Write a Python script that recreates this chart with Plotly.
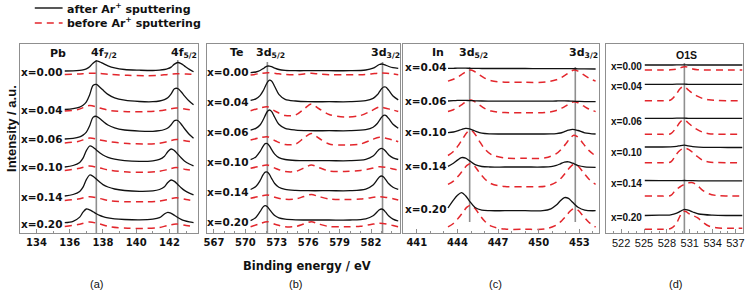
import plotly.graph_objects as go

# ---------------- data ----------------
comp_abd = ["x=0.00", "x=0.04", "x=0.06", "x=0.10", "x=0.14", "x=0.20"]
comp_c = ["x=0.04", "x=0.06", "x=0.10", "x=0.14", "x=0.20"]
series_names = ["after Ar<sup>+</sup> sputtering", "before Ar<sup>+</sup> sputtering"]

# Pb 4f
pb_e = [135.7, 136.2, 136.6, 136.8, 137.0, 137.2, 137.4, 137.6, 137.8, 138.0, 138.3, 138.7, 139.3,
        140.2, 141.0, 141.4, 141.7, 141.9, 142.1, 142.3, 142.5, 142.7, 142.9, 143.2, 143.45]
pb_after = [
    [162, 162.2, 162.7, 163.2, 164.2, 166.2, 169.8, 172, 171.2, 169.6, 167.2, 165.1, 163.5,
     162.8, 162.5, 162.9, 163.5, 164.3, 165.9, 168.9, 170.5, 169.4, 167.1, 163.6, 161.2],
    [123.5, 124.3, 125.9, 127.8, 131.2, 138.3, 147.5, 148.6, 146.1, 142.9, 138.6, 135.1, 132.8,
     131.5, 131.3, 132, 133.4, 135.2, 139.1, 144.2, 144.5, 141.3, 137.2, 131.7, 128.2],
    [94, 94.7, 96.2, 97.9, 100.9, 107.3, 115.6, 116.7, 114.5, 111.7, 108, 105.1, 103,
     101.9, 101.7, 102.3, 103.5, 105, 108.2, 112.3, 112.5, 109, 104.5, 98.5, 94.8],
    [66, 67.5, 70.6, 74.8, 82.4, 87, 85.8, 83.1, 80.3, 78, 75.7, 73.8, 72.4,
     71.7, 72.2, 73.6, 76.8, 81.3, 84, 82.4, 78.9, 75.2, 72.1, 69, 67.1],
    [37, 38.5, 41.6, 45.8, 53.4, 58, 56.7, 53.9, 50.9, 48.4, 46, 44, 42.5,
     41.7, 42.1, 43.5, 46.3, 50.5, 53, 51.6, 48.5, 45.3, 42.6, 39.9, 38.1],
    [10.3, 11.7, 15.9, 20.9, 24, 23.1, 21.3, 19.3, 17.6, 16.4, 15.2, 14.2, 13.5,
     13.1, 13.8, 15.3, 19, 20.7, 19.7, 17.7, 15.5, 13.7, 12.4, 11.1, 10.3],
]
pb_before_e = [135.7, 136.5, 137.2, 137.8, 138.5, 139.5, 140.5, 141.3, 141.9, 142.4, 143.0, 143.4]
pb_before = [
    [158.5, 159, 159.7, 159.5, 158.5, 157.7, 157.3, 157.6, 158.6, 159.3, 159, 158.7],
    [122, 123.5, 127.5, 125, 122.3, 121.3, 121.3, 122, 123.5, 125, 123.8, 123],
    [90, 91.5, 95, 93, 91, 89.5, 89, 89.5, 91.5, 93.5, 92, 91],
    [62.5, 64.5, 67, 65, 62.5, 61, 60.7, 61.5, 63.5, 65.5, 63.5, 62.5],
    [32.5, 34, 36.3, 34.5, 32, 31.3, 31.2, 31.8, 33.5, 35.3, 33.5, 32.5],
    [6.5, 8.5, 11, 9, 6, 4.8, 4.6, 5.3, 7.5, 9, 7.5, 6.5],
]

# Te 3d
te_e = [570.5, 571.0, 571.4, 571.7, 571.9, 572.1, 572.3, 572.5, 572.8, 573.2, 573.8, 574.8, 576.0,
        578.0, 580.0, 581.5, 582.2, 582.6, 582.8, 583.0, 583.2, 583.4, 583.7, 584.1, 584.6]
te_after = [
    [160.3, 161, 162.5, 164.4, 165.9, 166.9, 166.9, 166.3, 164.9, 163.5, 162.7, 162.3, 162.3,
     162.3, 162.3, 163, 164.8, 167.3, 168.5, 169, 168.7, 167.8, 166.5, 165.3, 164.7],
    [132.6, 134.1, 137.4, 142.2, 146.5, 150.6, 152.8, 152.1, 146.5, 138.7, 133.7, 132, 131.3,
     131.3, 131.3, 132.3, 134.6, 138.2, 141.1, 144.1, 146, 146, 142.6, 137, 133.1],
    [102.8, 104.6, 108, 113.2, 117.6, 121.5, 123, 121.6, 115.8, 108.7, 104.6, 102.9, 102.3,
     102.3, 102.3, 103.4, 105.8, 109.5, 112.5, 115.6, 117.7, 117.7, 114.3, 108.7, 104.8],
    [73.3, 76.1, 81.4, 86.9, 89.3, 89.4, 87.1, 83.6, 78.9, 75.4, 73.5, 72.5, 72.3,
     72.3, 72.3, 73.7, 77, 81.6, 83.8, 84.7, 83.8, 81.7, 78.1, 75.2, 73.5],
    [43.5, 46.5, 52.3, 58.3, 60.9, 60.9, 58.5, 54.7, 49.5, 45.7, 43.6, 42.6, 42.3,
     42.3, 42.3, 43.9, 47.9, 53.3, 56, 57, 56, 53.4, 49.2, 45.7, 43.7],
    [12.3, 15.6, 21.3, 26.1, 27.3, 26.3, 23.7, 20.9, 17.4, 15.1, 13.9, 13.2, 13,
     13, 13, 14.2, 17.2, 21.3, 23.2, 24, 23.1, 20.8, 17, 13.9, 12],
]
te_before_e = [570.5, 571.3, 572.1, 572.9, 573.8, 574.8, 575.6, 576.3, 577.0, 578.0, 579.5,
               581.0, 582.0, 582.8, 583.5, 584.1, 584.6]
te_before = [
    [158, 159.3, 160.3, 159.5, 158.5, 158.3, 159, 159.7, 159, 158.3, 158.2, 158.3, 159, 160, 159.8, 159, 158.3],
    [122.3, 124.7, 126.3, 121.5, 117.5, 118, 124, 129, 124.5, 118.5, 116, 117.5, 122, 126, 124.5, 123, 121.5],
    [93, 95, 96.3, 92, 88.5, 89, 95, 99.5, 95, 89, 88, 89, 93, 95.7, 94.5, 93, 91.3],
    [64.7, 66.5, 68, 64.5, 61.5, 61.5, 65, 68, 65.5, 62, 61.5, 62.5, 64.5, 66.3, 65.5, 64, 63],
    [34.7, 36.5, 38, 35.5, 33.7, 34, 36.5, 38.5, 36.5, 34, 33.5, 34, 35.3, 36.3, 35.5, 34.3, 33],
    [6.3, 9, 11.3, 8.5, 6.3, 6.5, 9, 11.3, 9, 6.5, 6.2, 6.8, 8.5, 9.7, 9, 7.5, 6.3],
]

# In 3d
in_e = [443.3, 443.7, 444.0, 444.3, 444.6, 444.9, 445.3, 445.8, 446.4, 447.5, 449.0, 450.3,
        450.9, 451.3, 451.6, 451.9, 452.2, 452.5, 452.9, 453.4, 454.2]
in_after = [
    [164.6, 164.7, 164.8, 164.8, 164.8, 164.7, 164.6, 164.5, 164.5, 164.5, 164.5, 164.4,
     164.4, 164.4, 164.4, 164.4, 164.3, 164.3, 164.2, 164.1, 164],
    [132, 132.3, 132.6, 132.7, 132.6, 132.4, 132.2, 132, 131.9, 131.9, 131.9, 131.9,
     131.9, 132, 132.1, 132.1, 132, 131.8, 131.6, 131.4, 131.3],
    [100.3, 101, 102.1, 103.5, 104.6, 104.2, 102, 99.8, 99.1, 99, 99, 99,
     99.1, 99.4, 100, 101.4, 102.9, 103.7, 102.5, 100.2, 99],
    [66.7, 69.7, 72.9, 75.4, 74.9, 72.1, 68.4, 66.5, 66, 66, 66, 66,
     66.4, 67.6, 69.2, 70.9, 71.2, 69.8, 67.5, 66.1, 65.7],
    [25, 32.8, 37.7, 40.3, 37.2, 31.7, 25.5, 22.8, 22.3, 22.3, 22.3, 22.3,
     24.2, 27.9, 32.2, 35.4, 34.6, 30.7, 25.7, 22.8, 22.3],
]
in_before_e = [443.3, 443.7, 444.1, 444.4, 444.7, 445.0, 445.3, 445.6, 446.0, 446.5, 447.5,
               449.0, 450.5, 451.3, 451.7, 452.0, 452.3, 452.6, 452.9, 453.3, 453.7, 454.2]
in_before = [
    [151.9, 153.7, 156.6, 159.3, 161.9, 162.9, 161.2, 158.3, 154.9, 152.3, 150.8,
     150.7, 150.9, 153.2, 155.7, 158.3, 161.2, 162.9, 161.9, 158.3, 154.9, 151.9],
    [121.6, 123.3, 126.4, 129.2, 131.9, 132.9, 131.1, 128.2, 124.6, 122, 120.4,
     120.3, 120.5, 122.5, 124.8, 127.1, 129.7, 131.2, 130.3, 127.1, 124, 121.4],
    [77.5, 81.5, 88.3, 94.5, 100.5, 102.7, 98.8, 92.2, 84.3, 78.4, 75,
     74.7, 75.2, 79.4, 84.3, 89.1, 94.5, 97.8, 95.9, 89.1, 82.6, 77],
    [48.6, 51.9, 57.5, 62.7, 67.6, 69.5, 66.2, 60.8, 54.3, 49.3, 46.5,
     46.3, 46.8, 50.8, 55.6, 60.4, 65.6, 68.8, 67, 60.4, 54, 48.6],
    [6.1, 9.5, 15.4, 20.7, 25.8, 27.8, 24.4, 18.8, 12, 6.9, 3.9,
     3.7, 4.1, 7.9, 12.3, 16.7, 21.6, 24.5, 22.8, 16.7, 10.8, 5.8],
]

# O 1s
o_e = [525.1, 527.0, 528.5, 529.3, 529.8, 530.3, 530.8, 531.4, 532.2, 534.0, 536.0, 537.9]
o_after = [
    [168, 168, 168, 168.1, 168.1, 168.1, 168, 168, 168, 168, 168, 168],
    [148.7, 148.7, 148.7, 148.8, 148.8, 148.8, 148.7, 148.7, 148.6, 148.6, 148.6, 148.6],
    [114.7, 114.7, 114.7, 114.8, 114.8, 114.8, 114.7, 114.7, 114.6, 114.6, 114.6, 114.6],
    [86, 86, 86.1, 86.6, 87.4, 87.8, 87.2, 86.4, 85.9, 85.6, 85.5, 85.5],
    [52.5, 52.4, 52.4, 52.3, 52.4, 52.5, 52.4, 52.3, 52.2, 52.2, 52.2, 52.2],
    [17.5, 17.8, 18.2, 19.8, 21.8, 23.7, 22.8, 21, 19, 17.8, 17.5, 17.5],
]
o_before_e = [525.1, 527.0, 528.5, 529.2, 529.7, 530.1, 530.5, 530.9, 531.4, 532.0, 532.7,
              533.5, 534.5, 536.0, 537.9]
o_before = [
    [163, 163, 163.2, 163.8, 165, 166, 166.2, 165.3, 164, 163.3, 163, 163, 163, 163, 163],
    [132.3, 132.3, 133, 138.5, 144, 146.3, 145, 142.5, 139.5, 136.8, 134.5, 133.2, 132.5, 132.3, 132.3],
    [98.7, 98.7, 99.3, 105, 110.5, 113, 112, 109.5, 106.3, 103.3, 100.8, 99.3, 98.8, 98.7, 98.7],
    [70.3, 70.3, 71, 78.3, 82.5, 84.3, 84.6, 83.3, 80.5, 76.5, 72.8, 71, 70.5, 70.3, 70.3],
    [37, 37, 37.5, 43.5, 46, 47.8, 49.3, 50.2, 50.3, 47.5, 42.7, 39.3, 37.5, 37, 37],
    [3.7, 3.7, 4.5, 9, 16.5, 21.5, 21.5, 19.3, 17.5, 15.3, 11, 7, 5.2, 4.7, 4.7],
]

# reference peak positions (vertical lines)
pb_lines = [137.6, 142.5]
te_lines = [572.1, 583.1]
in_lines = [444.9, 452.7]
o_lines = [530.3]

# tick labels
pb_ticks = [134, 136, 138, 140, 142]
te_ticks = [567, 570, 573, 576, 579, 582]
in_ticks = [441, 444, 447, 450, 453]
o_ticks = [522, 525, 528, 531, 534, 537]

# ---------------- figure ----------------
W, H = 748, 294
BOLD = "DejaVu Sans"
BLACK = "#111111"
RED = "#e3262c"
GRAY = "#8f8f8f"
DASH = "7px,5px"

def px(x):
    return x / W

def py(y):
    return 1 - y / H

fig = go.Figure()

panels = [
    dict(ax="x", ay="y", e=pb_e, after=pb_after, eb=pb_before_e, before=pb_before),
    dict(ax="x2", ay="y2", e=te_e, after=te_after, eb=te_before_e, before=te_before),
    dict(ax="x3", ay="y3", e=in_e, after=in_after, eb=in_before_e, before=in_before),
    dict(ax="x4", ay="y4", e=o_e, after=o_after, eb=o_before_e, before=o_before),
]

for i, p in enumerate(panels):
    for j in range(len(p["after"])):
        fig.add_trace(go.Scatter(
            x=p["eb"], y=p["before"][j], mode="lines", xaxis=p["ax"], yaxis=p["ay"],
            line=dict(color=RED, width=1.5, dash=DASH, shape="spline", smoothing=0.9),
            name=series_names[1], showlegend=False, hoverinfo="skip"))
        fig.add_trace(go.Scatter(
            x=p["e"], y=p["after"][j], mode="lines", xaxis=p["ax"], yaxis=p["ay"],
            line=dict(color=BLACK, width=1.3, shape="spline", smoothing=0.9),
            name=series_names[0], showlegend=False, hoverinfo="skip"))

# axes
xdomains = [(17, 196), (205, 400), (403, 600), (607, 745)]
xranges = [(133.0, 143.7), (566.3, 584.8), (440.0, 454.45), (520.0, 538.0)]
ticks = [pb_ticks, te_ticks, in_ticks, o_ticks]
minor = [1, 1, 1, 1]
tickfonts = [dict(family=BOLD, size=10, color=BLACK, weight="bold")] * 3 + \
            [dict(family="Liberation Sans Narrow, Liberation Sans", size=11, color=BLACK)]
ydom = [py(233), py(44)]

for k in range(4):
    sfx = "" if k == 0 else str(k + 1)
    fig.layout["xaxis" + sfx] = dict(
        domain=[px(xdomains[k][0]), px(xdomains[k][1])], range=list(xranges[k]),
        anchor="y" + sfx, showline=True, mirror=True, linecolor=GRAY, linewidth=1.3,
        ticks="inside", ticklen=4, tickcolor=GRAY, tickwidth=1,
        tickvals=ticks[k], ticktext=[str(t) for t in ticks[k]], tickfont=tickfonts[k],
        minor=dict(ticks="inside", ticklen=2, dtick=minor[k], tickcolor=GRAY),
        showgrid=False, zeroline=False, fixedrange=True)
    fig.layout["yaxis" + sfx] = dict(
        domain=ydom, range=[0, 189], anchor="x" + sfx, showline=True, mirror=True,
        linecolor=GRAY, linewidth=1.3, ticks="", showticklabels=False,
        showgrid=False, zeroline=False, fixedrange=True)

# vertical reference lines
line_sets = [(pb_lines, "x", "y", 0, 173), (te_lines, "x2", "y2", 0, 171),
             (in_lines, "x3", "y3", 11, 166), (o_lines, "x4", "y4", 0, 170)]
shapes = []
for lines, xr, yr, y0, y1 in line_sets:
    for v in lines:
        shapes.append(dict(type="line", xref=xr, yref=yr, x0=v, x1=v, y0=y0, y1=y1,
                           line=dict(color=GRAY, width=1.6), layer="below"))

# legend samples (drawn key)
shapes.append(dict(type="line", xref="paper", yref="paper", x0=px(32), x1=px(60),
                   y0=py(8), y1=py(8), line=dict(color=BLACK, width=1.4)))
shapes.append(dict(type="line", xref="paper", yref="paper", x0=px(32), x1=px(60),
                   y0=py(23), y1=py(23), line=dict(color=RED, width=1.5, dash=DASH)))
fig.update_layout(shapes=shapes)

ann = []
def text(x, y, s, size=11, family=BOLD, xanchor="center", yref="paper", **kw):
    ann.append(dict(x=px(x), y=(py(y) if yref == "paper" else y), xref="paper", yref=yref,
                    text=s, showarrow=False, xanchor=xanchor, yanchor="middle",
                    font=dict(family=family, size=size, color=BLACK), **kw))

# legend texts
text(62, 8, "<b>" + series_names[0] + "</b>", size=11, xanchor="left")
text(62, 23, "<b>" + series_names[1] + "</b>", size=11, xanchor="left")

# composition labels
lab_a = [72, 110, 139, 167, 197, 224]
lab_b = [72, 102, 132, 162, 192, 222]
lab_c = [67, 101, 132, 166, 209]
lab_d = [67, 87, 122, 152, 183, 217]
for s, y in zip(comp_abd, lab_a):
    text(61, 233 - y, "<b>" + s + "</b>", size=10.5, xanchor="right", yref="y")
for s, y in zip(comp_abd, lab_b):
    text(249, 233 - y, "<b>" + s + "</b>", size=10.5, xanchor="right", yref="y2")
for s, y in zip(comp_c, lab_c):
    text(448, 233 - y, "<b>" + s + "</b>", size=10.5, xanchor="right", yref="y3")
for s, y in zip(comp_abd, lab_d):
    text(645, 233 - y, "<b>" + s + "</b>", size=10, family="Liberation Sans",
         xanchor="right", yref="y4")

# element / level labels
text(55, 54, "<b>Pb</b>", size=11)
text(87, 53, "<b>4f<sub>7/2</sub></b>", size=11, xanchor="left")
text(167, 53, "<b>4f<sub>5/2</sub></b>", size=11, xanchor="left")
text(236, 53, "<b>Te</b>", size=11)
text(253, 53, "<b>3d<sub>5/2</sub></b>", size=11, xanchor="left")
text(368, 53, "<b>3d<sub>3/2</sub></b>", size=11, xanchor="left")
text(438, 53, "<b>In</b>", size=11)
text(457, 53, "<b>3d<sub>5/2</sub></b>", size=11, xanchor="left")
text(568, 53, "<b>3d<sub>3/2</sub></b>", size=11, xanchor="left")
text(688, 55, "<b>O1S</b>", size=10.5, family="Liberation Sans")

# axis titles and panel letters
text(306, 266, "<b>Binding energy / eV</b>", size=11.5)
ann.append(dict(x=px(8), y=py(128), xref="paper", yref="paper", xanchor="center",
                yanchor="middle", text="<b>Intensity / a.u.</b>", textangle=-90,
                showarrow=False, font=dict(family="Liberation Sans", size=13, color=BLACK)))
for s, x in zip(["(a)", "(b)", "(c)", "(d)"], [94, 294, 496, 677]):
    text(x, 284, s, size=11, family="Liberation Sans Narrow, Liberation Sans")

fig.update_layout(annotations=ann)

fig.update_layout(
    width=W, height=H, margin=dict(l=0, r=0, t=0, b=0),
    paper_bgcolor="white", plot_bgcolor="white", showlegend=False,
)

fig.write_html("out.html", config={"displayModeBar": False},
               post_script="document.body.style.margin='0px';document.body.style.overflow='hidden';")
